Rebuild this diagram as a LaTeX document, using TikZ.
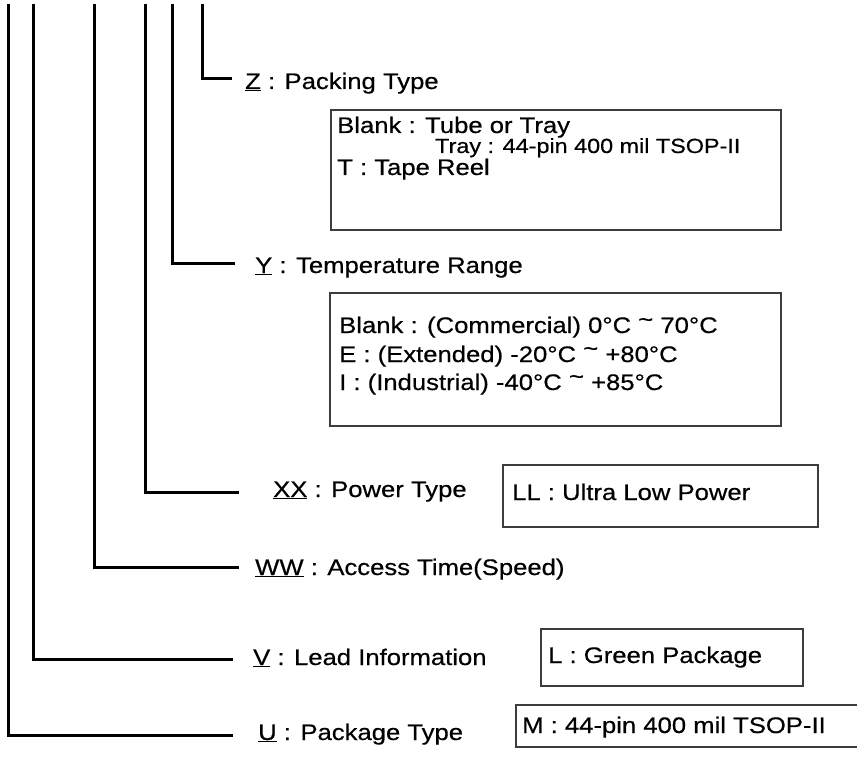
\documentclass[tikz,border=0pt]{standalone}
\usepackage{fontspec}
\setmainfont{Liberation Sans}
\newfontfamily\pnfont{Liberation Sans}[FakeStretch=1.14, FakeBold=0.5]
\usetikzlibrary{positioning}
\definecolor{pnline}{HTML}{000000}
\definecolor{pnframe}{HTML}{3C3C3C}
\tikzset{
  lead/.style    ={draw=pnline, line width=3pt, line join=miter},
  field/.style   ={anchor=base west, inner sep=0pt, font=\pnfont\fontsize{22.5}{26}\selectfont},
  optbox/.style  ={draw=pnframe, line width=1.1pt},
  opt/.style     ={anchor=base west, inner sep=0pt, font=\pnfont\fontsize{22.5}{26}\selectfont},
  optsmall/.style={opt, font=\pnfont\fontsize{20.5}{23}\selectfont},
}
\newcommand{\code}[1]{\underline{#1}}
\newcommand{\tld}{\raisebox{6pt}{\textasciitilde}}

\begin{document}
\begin{tikzpicture}[x=1pt,y=-1pt]
  \useasboundingbox (0,0) rectangle (857,765);

  % field labels
  \node[field] (zlab) at (245,89)  {\code{Z} : Packing Type};
  \node[field] (ylab) at (255,273) {\code{Y} : Temperature Range};
  \node[field] (xlab) at (273,497) {\code{XX} : Power Type};
  \node[field] (wlab) at (255,575) {\code{WW} : Access Time(Speed)};
  \node[field] (vlab) at (253,665) {\code{V} : Lead Information};
  \node[field] (ulab) at (258,740) {\code{U} : Package Type};

  % leads, top end and label end
  \coordinate (ztop) at (202,4);  \coordinate (zend) at (232,79);
  \coordinate (ytop) at (172,4);  \coordinate (yend) at (235,263);
  \coordinate (xtop) at (145,4);  \coordinate (xend) at (239,492);
  \coordinate (wtop) at (94,4);   \coordinate (wend) at (239,567);
  \coordinate (vtop) at (33,4);   \coordinate (vend) at (233,659);
  \coordinate (utop) at (8,4);    \coordinate (uend) at (233,735);

  \foreach \f in {z,y,x,w,v,u}
    \draw[lead] (\f top) |- (\f end);

  % option boxes
  \draw[optbox] (331,110) rectangle (781,230);
  \node[opt] (zblank) at (337,133) {Blank : Tube or Tray};
  \node[optsmall] (ztray) at (435,153) {Tray : 44-pin 400 mil TSOP-II};
  \node[opt] (ztape) at (337,175) {T : Tape Reel};

  \draw[optbox] (330,293) rectangle (781,426);
  \node[opt] (yblank) at (339,333) {Blank : (Commercial) 0°C \tld{} 70°C};
  \node[opt] (yext) at (339,362) {E : (Extended) -20°C \tld{} +80°C};
  \node[opt] (yind) at (339,390) {I : (Industrial) -40°C \tld{} +85°C};

  \draw[optbox] (503,465) rectangle (818,527);
  \node[opt] (xll) at (512,500) {LL : Ultra Low Power};

  \draw[optbox] (541,629) rectangle (803,686);
  \node[opt] (vl) at (548,663) {L : Green Package};

  \draw[optbox] (857,705) -- (516,705) -- (516,747) -- (857,747);
  \node[opt] (um) at (522,733) {M : 44-pin 400 mil TSOP-II};

\end{tikzpicture}
\end{document}
